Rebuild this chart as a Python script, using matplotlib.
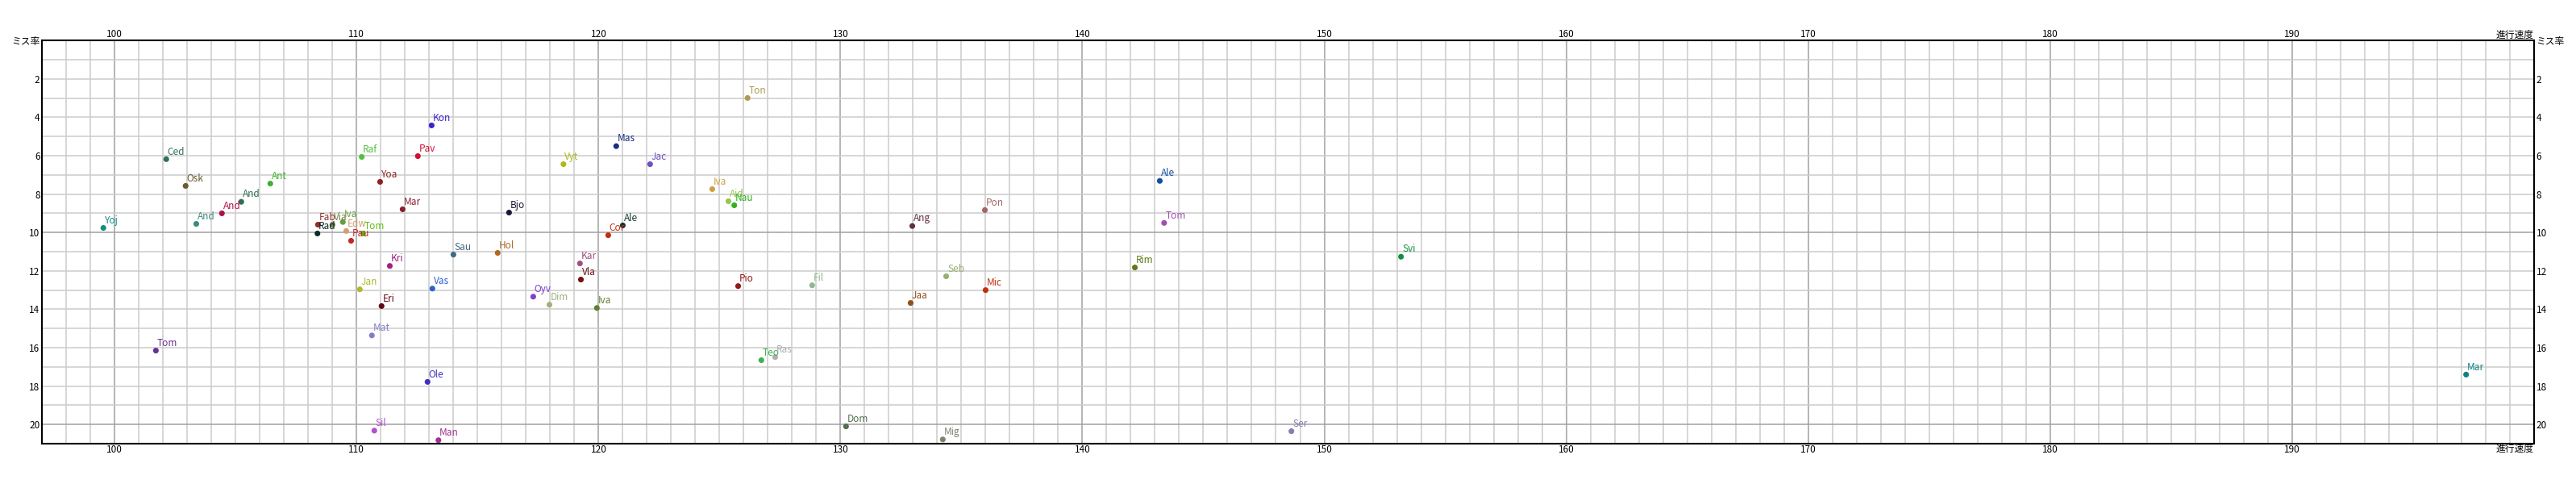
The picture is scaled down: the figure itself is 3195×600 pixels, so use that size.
import matplotlib
matplotlib.use('Agg')
import matplotlib.pyplot as plt
import numpy as np

plt.rcParams['font.family'] = ['Noto Sans CJK JP', 'DejaVu Sans']

# 進行速度 (x) / ミス率 (y) per player
names = ['Ced', 'Osk', 'Ant', 'And', 'And', 'And', 'Yoj', 'Tom', 'Kon', 'Pav',
         'Raf', 'Yoa', 'Mar', 'Bjo', 'Fab', 'Via', 'Iva', 'Rad', 'Edw', 'Tom',
         'Pau', 'Kri', 'Sau', 'Hol', 'Vyt', 'Jan', 'Vas', 'Eri', 'Oyv', 'Dim',
         'Mat', 'Ole', 'Sil', 'Man', 'Ton', 'Mas', 'Jac', 'Iva', 'Aid', 'Nau',
         'Ale', 'Cor', 'Kar', 'Vla', 'Iva', 'Pio', 'Fil', 'Teo', 'Ras', 'Dom',
         'Mig', 'Ang', 'Pon', 'Seb', 'Mic', 'Jaa', 'Rim', 'Ale', 'Tom', 'Svi',
         'Mar', 'Ser']
speed = [102.13, 102.93, 106.43, 105.23, 104.43, 103.37, 99.53, 101.7, 113.1, 112.53,
         110.21, 110.97, 111.9, 116.3, 108.4, 109.0, 109.43, 108.38, 109.57, 110.27,
         109.77, 111.37, 114.0, 115.83, 118.55, 110.13, 113.13, 111.03, 117.3, 117.97,
         110.63, 112.93, 110.73, 113.38, 126.16, 120.73, 122.13, 124.7, 125.37, 125.61,
         121.0, 120.4, 119.23, 119.27, 119.93, 125.77, 128.83, 126.73, 127.3, 130.23,
         134.23, 132.97, 135.97, 134.37, 136.0, 132.9, 142.17, 143.2, 143.38, 153.17,
         197.2, 148.64]
miss = [6.18, 7.57, 7.45, 8.40, 9.0, 9.55, 9.76, 16.15, 4.42, 6.02,
        6.06, 7.36, 8.79, 8.96, 9.59, 9.59, 9.45, 10.05, 9.92, 10.05,
        10.43, 11.74, 11.15, 11.06, 6.44, 12.96, 12.92, 13.83, 13.34, 13.76,
        15.36, 17.78, 20.32, 20.82, 2.99, 5.50, 6.44, 7.74, 8.37, 8.58,
        9.63, 10.14, 11.61, 12.45, 13.93, 12.79, 12.75, 16.65, 16.49, 20.10,
        20.78, 9.66, 8.83, 12.28, 13.0, 13.67, 11.82, 7.31, 9.50, 11.26,
        17.40, 20.35]
colors = ['#2e7060', '#6b5a30', '#40b030', '#2e6e50', '#b01048', '#3a8a80', '#10907a', '#6a3090', '#4020d0', '#d01030',
          '#50c040', '#902020', '#882030', '#181838', '#903028', '#708040', '#60a040', '#102828', '#d0a070', '#60c010',
          '#c02828', '#a02080', '#406880', '#b06820', '#b0b820', '#b0b830', '#3060d0', '#600818', '#8040d0', '#a0b080',
          '#8080c8', '#4030c0', '#b050d0', '#a03090', '#b09850', '#183080', '#7050c0', '#d0a040', '#90c850', '#30b020',
          '#103830', '#c03010', '#a05080', '#701010', '#608030', '#901818', '#90b890', '#40b050', '#b0b0b0', '#507050',
          '#808070', '#603040', '#a06860', '#98b070', '#c03010', '#905018', '#607818', '#1050a0', '#a050b0', '#109040',
          '#108080', '#8080b0']

x_range = (97, 200)
y_range = (0, 21)

fig = plt.figure(figsize=(31.95, 6), dpi=100)
ax = fig.add_axes([0.01637, 0.0833, 0.96726, 0.8329])

ax.set_xlim(*x_range)
ax.set_ylim(y_range[1], y_range[0])

# grid: thin every 1, darker every 10
for v in range(98, 200):
    c = '#a0a0a0' if v % 10 == 0 else '#cccccc'
    ax.axvline(v, color=c, lw=1.1, zorder=0)
for v in range(1, 21):
    c = '#a0a0a0' if v % 10 == 0 else '#cccccc'
    ax.axhline(v, color=c, lw=1.1, zorder=0)

ax.scatter(speed, miss, s=26, c=colors, zorder=3, linewidths=0)
for n, x, y, c in zip(names, speed, miss, colors):
    ax.annotate(n, (x, y), xytext=(1, 2), textcoords='offset points',
                color=c, fontsize=8.5, ha='left', va='bottom', zorder=4)

xt = list(range(100, 200, 10))
ax.set_xticks(xt)
ax.set_xticklabels([str(v) for v in xt])
yt = list(range(0, 21, 2))
ax.set_yticks(yt)
ax.set_yticklabels(['ミス率'] + [str(v) for v in yt[1:]])
ax.tick_params(axis='x', top=True, labeltop=True, bottom=True, labelbottom=True,
               length=0, pad=1, labelsize=8.5)
ax.tick_params(axis='y', left=True, right=True, labelleft=True, labelright=True,
               length=0, pad=2, labelsize=8.5)

for s in ax.spines.values():
    s.set_linewidth(1.5)
    s.set_color('black')

ax.text(1.0, 1.0, '進行速度', transform=ax.transAxes, ha='right', va='bottom', fontsize=8.5)
ax.text(1.0, 0.0, '進行速度', transform=ax.transAxes, ha='right', va='top', fontsize=8.5)

fig.savefig('out.png', dpi=100)
